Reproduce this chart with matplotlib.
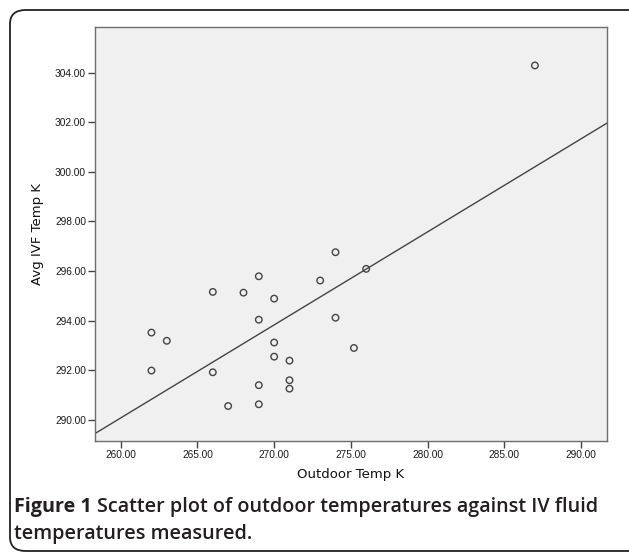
import numpy as np
import matplotlib
matplotlib.use("Agg")
import matplotlib.pyplot as plt
from matplotlib.patches import FancyBboxPatch

# outdoor temperature (K) and average IV fluid temperature (K)
outdoor_k = [269, 273, 266, 268, 270, 269, 274, 262, 263, 270, 270, 271,
             262, 266, 271, 271, 269, 267, 269, 274, 276, 275.2, 287]
ivf_k = [295.79, 295.62, 295.16, 295.13, 294.89, 294.04, 294.12, 293.52,
         293.19, 293.12, 292.55, 292.39, 291.99, 291.92, 291.60, 291.26,
         291.40, 290.56, 290.63, 296.76, 296.09, 292.90, 304.29]

x_ticks = [260, 265, 270, 275, 280, 285, 290]
y_ticks = [290, 292, 294, 296, 298, 300, 302, 304]

W, H = 629, 555
fig = plt.figure(figsize=(W / 100, H / 100), dpi=100)
fig.patch.set_facecolor("white")

# rounded frame round the whole figure
frame = FancyBboxPatch((10 / W, 4 / H), (W + 20) / W, (H - 14) / H,
                       boxstyle="round,pad=0,rounding_size=0.025",
                       transform=fig.transFigure, fill=False,
                       edgecolor="#222222", linewidth=1.3, clip_on=False)
fig.patches.append(frame)

ax = fig.add_axes([95 / W, 1 - 441 / H, (606.7 - 95) / W, (441 - 27) / H])
ax.set_facecolor("#f0f0f0")

ax.scatter(outdoor_k, ivf_k, s=22, facecolors="none", edgecolors="#444444",
           linewidths=1.0, zorder=3)

xlo, xhi = 258.32, 291.68
slope, icpt = np.polyfit(outdoor_k, ivf_k, 1)
xs = np.array([xlo, xhi])
ax.plot(xs, slope * xs + icpt, color="#444444", lw=1.0, zorder=2)

ax.set_xlim(xlo, xhi)
ax.set_ylim(289.15, 305.84)
ax.set_xticks(x_ticks)
ax.set_yticks(y_ticks)
ax.set_xticklabels([f"{t:.2f}" for t in x_ticks])
ax.set_yticklabels([f"{t:.2f}" for t in y_ticks])

for s in ax.spines.values():
    s.set_color("#6e6e6e")
    s.set_linewidth(1.0)
ax.tick_params(direction="out", length=5, width=1, color="#444444",
               labelsize=7.3, labelcolor="#1a1a1a", pad=1.5)
for lab in ax.get_xticklabels() + ax.get_yticklabels():
    lab.set_family("Liberation Sans")

ax.set_xlabel("Outdoor Temp K", fontsize=9.5, family="DejaVu Sans",
              color="#111111", labelpad=6)
ax.set_ylabel("Avg IVF Temp K", fontsize=9.5, family="DejaVu Sans",
              color="#111111", labelpad=8)

# caption, bold "Figure 1" followed by the rest
cap_kw = dict(fontsize=14.2, family="Open Sans", color="#231f20")
t1 = fig.text(14 / W, 1 - 512 / H, "Figure 1", weight="bold", **cap_kw)
fig.canvas.draw()
bb = t1.get_window_extent()
fig.text(bb.x1 / W + 5 / W, 1 - 512 / H,
         "Scatter plot of outdoor temperatures against IV fluid",
         weight="semibold", **cap_kw)
fig.text(14 / W, 1 - 539 / H, "temperatures measured.", weight="semibold",
         **cap_kw)

fig.savefig("out.png", dpi=100)
